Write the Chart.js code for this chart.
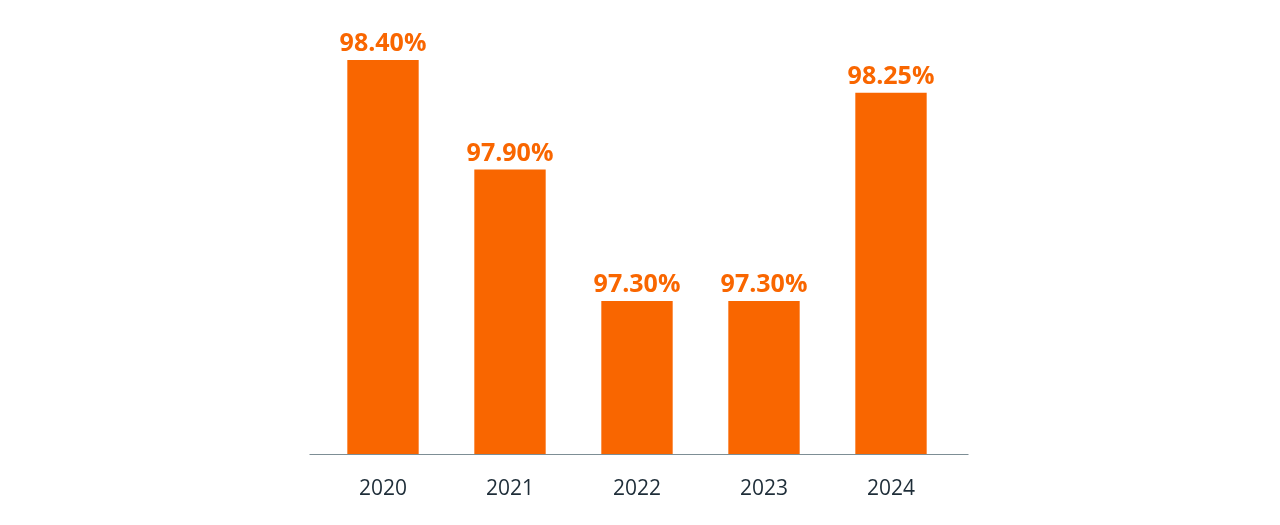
<!DOCTYPE html>
<html>
<head>
<meta charset="utf-8">
<script src="https://cdn.jsdelivr.net/npm/chart.js@4/dist/chart.umd.min.js"></script>
<style>
  html, body { margin: 0; padding: 0; background: #ffffff; }
  #chart { display: block; }
</style>
</head>
<body>
<canvas id="chart" width="1280" height="525"></canvas>
<script>
// data
var years = ['2020', '2021', '2022', '2023', '2024'];
var rates = [98.40, 97.90, 97.30, 97.30, 98.25];
var valueLabels = ['98.40%', '97.90%', '97.30%', '97.30%', '98.25%'];

var orange = '#f96600';

// value labels above each bar
var barLabels = {
    id: 'barLabels',
    afterDatasetsDraw: function (chart) {
        var ctx = chart.ctx;
        var meta = chart.getDatasetMeta(0);
        ctx.save();
        ctx.fillStyle = orange;
        ctx.font = '700 25px "Open Sans"';
        ctx.textAlign = 'center';
        ctx.textBaseline = 'alphabetic';
        meta.data.forEach(function (bar, i) {
            ctx.fillText(valueLabels[i], bar.x, bar.y - 9);
        });
        ctx.restore();
    }
};

// baseline, a bit wider than the category band
var baseLine = {
    id: 'baseLine',
    afterDatasetsDraw: function (chart) {
        var ctx = chart.ctx;
        var area = chart.chartArea;
        var y = Math.round(area.bottom) + 0.5;
        ctx.save();
        ctx.strokeStyle = '#7d8e95';
        ctx.lineWidth = 1;
        ctx.beginPath();
        ctx.moveTo(area.left - 10, y);
        ctx.lineTo(area.right + 14, y);
        ctx.stroke();
        ctx.restore();
    }
};

new Chart(document.getElementById('chart').getContext('2d'), {
    type: 'bar',
    data: {
        labels: years,
        datasets: [{
            data: rates,
            backgroundColor: orange,
            borderWidth: 0,
            barPercentage: 0.562,
            categoryPercentage: 1
        }]
    },
    options: {
        responsive: false,
        animation: false,
        devicePixelRatio: 1,
        layout: {
            padding: { left: 319.5, right: 325.5, top: 60, bottom: 1.5 }
        },
        plugins: {
            legend: { display: false },
            tooltip: { enabled: false }
        },
        scales: {
            y: {
                display: false,
                min: 96.6,
                max: 98.4
            },
            x: {
                grid: { display: false, drawTicks: false },
                border: { display: false },
                ticks: {
                    color: '#1e2d38',
                    padding: 22,
                    font: { family: '"Open Sans"', size: 21, lineHeight: 1.2 }
                }
            }
        }
    },
    plugins: [barLabels, baseLine]
});
</script>
</body>
</html>
